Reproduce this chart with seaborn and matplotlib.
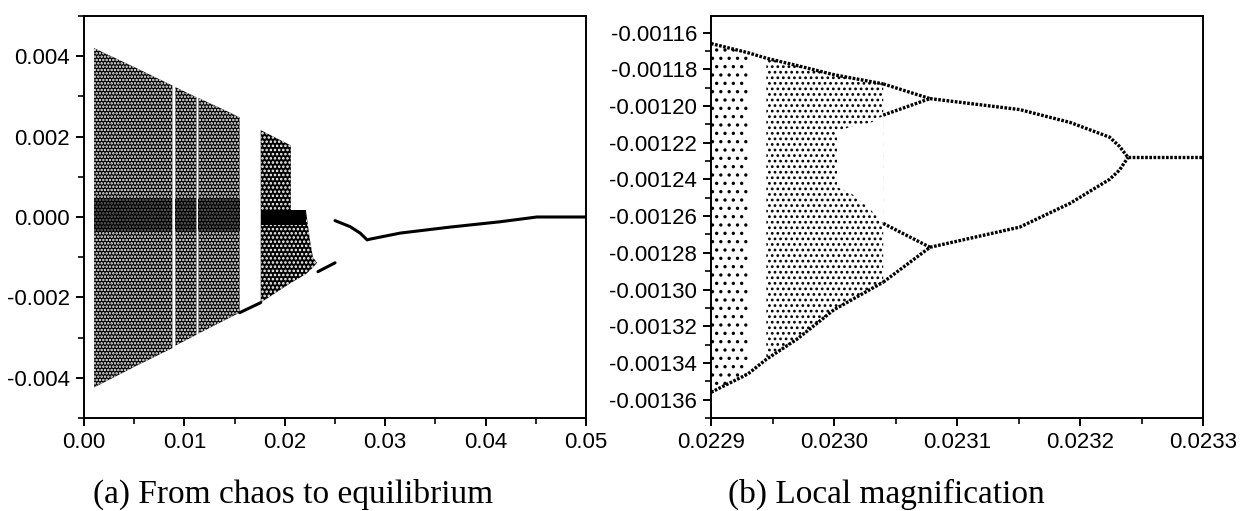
# bifurcation diagram: (a) from chaos to equilibrium, (b) local magnification

# --- imports --- #
import matplotlib
matplotlib.use("Agg")
import matplotlib.pyplot as plt
import seaborn as sns
from matplotlib.ticker import MultipleLocator, FormatStrFormatter


# --- data --- #

# (a) chaotic bands: x, upper edge, lower edge (split where white stripes are)
a_band1_x = [[0.0010, 0.0050, 0.0088], [0.0091, 0.0112], [0.0114, 0.0140, 0.0155]]
a_band1_top = [[0.00420, 0.00373, 0.00327], [0.00323, 0.00298], [0.00296, 0.00266, 0.00248]]
a_band1_bot = [[-0.00424, -0.00373, -0.00326], [-0.00320, -0.00293], [-0.00290, -0.00257, -0.00238]]
a_core1_top = 0.00045
a_core1_bot = -0.00035

a_band2_x = [0.0176, 0.0206, 0.0206, 0.0221, 0.0225, 0.0228, 0.0232]
a_band2_top = [0.00216, 0.00178, 0.00017, 0.00017, -0.00057, -0.00100, -0.00114]
a_band2_bot = [-0.00213, -0.00164, -0.00164, -0.00142, -0.00133, -0.00126, -0.00114]
a_core2_x = [0.0176, 0.0221]
a_core2_top = 0.00017
a_core2_bot = -0.00020

# (a) single curves
a_gap_x = [0.0155, 0.0176]
a_gap_y = [-0.00238, -0.00213]
a_seg_x = [0.0233, 0.0250]
a_seg_y = [-0.00136, -0.00114]
a_fix_x = [0.0250, 0.0265, 0.0275, 0.0282, 0.0285, 0.0315, 0.0365, 0.0414, 0.0451, 0.0500]
a_fix_y = [-0.00009, -0.00024, -0.00040, -0.00057, -0.00055, -0.00040, -0.00025, -0.00012, 0.0, 0.0]

# (b) chaotic blocks
b_left_x = [0.022900, 0.022930]
b_left_top = [-0.001166, -0.001171]
b_left_bot = [-0.001356, -0.001346]
b_edge_x = [0.022900, 0.022930, 0.022945, 0.022970, 0.023000, 0.023040]
b_edge_top = [-0.001166, -0.001171, -0.001174, -0.001178, -0.001183, -0.001188]
b_edge_bot = [-0.001356, -0.001346, -0.001338, -0.001327, -0.001311, -0.001296]
b_right_x = [0.022945, 0.022970, 0.023000, 0.023040]
b_right_top = [-0.001174, -0.001178, -0.001183, -0.001188]
b_right_bot = [-0.001338, -0.001327, -0.001311, -0.001296]
b_hole_x = [0.023002, 0.023013, 0.023029, 0.023040]
b_hole_top = [-0.001214, -0.001211, -0.001209, -0.001205]
b_hole_bot = [-0.001244, -0.001247, -0.001256, -0.001264]

# (b) period-4, period-2 and period-1 branches
b_p4_x = [0.023040, 0.023078]
b_p4_branches = [[-0.001188, -0.001196], [-0.001205, -0.001196],
                 [-0.001264, -0.001277], [-0.001296, -0.001277]]
b_p2_x = [0.023078, 0.023151, 0.023192, 0.023224, 0.023232, 0.023239]
b_p2_up = [-0.001196, -0.001202, -0.001209, -0.001217, -0.001222, -0.001228]
b_p2_lo = [-0.001277, -0.001266, -0.001253, -0.001240, -0.001235, -0.001228]
b_p1_x = [0.023239, 0.023300]
b_p1_y = [-0.001228, -0.001228]


# --- style --- #
sns.set_style("ticks")
plt.rcParams["font.family"] = ["Liberation Sans", "DejaVu Sans"]
plt.rcParams["hatch.linewidth"] = 1.2

fig = plt.figure(figsize=(12.45, 5.11), dpi=100)
ax_a = fig.add_axes([0.0675, 0.182, 0.4032, 0.7867])
ax_b = fig.add_axes([0.5711, 0.182, 0.3952, 0.7867])


def frame(ax):
	for s in ax.spines.values():
		s.set_linewidth(1.4)
		s.set_color("black")
	ax.tick_params(which="major", direction="out", length=6, width=1.4,
				   labelsize=16, colors="black", pad=4, top=False, right=False)
	ax.tick_params(which="minor", direction="out", length=4.5, width=1.4,
				   top=False, right=False)


# - panel (a) - #
## speckled bands: black with white speckles, denser core near zero
for xs, tops, bots in zip(a_band1_x, a_band1_top, a_band1_bot):
	ax_a.fill_between(xs, bots, tops, facecolor="black", edgecolor="white",
					  hatch=".....", linewidth=0)
	ax_a.fill_between(xs, a_core1_bot, a_core1_top, facecolor="black",
					  edgecolor="#6a6a6a", hatch=".....", linewidth=0)

ax_a.fill_between(a_band2_x, a_band2_bot, a_band2_top, facecolor="black",
				  edgecolor="white", hatch="....", linewidth=0)
ax_a.fill_between(a_core2_x, a_core2_bot, a_core2_top, color="black", linewidth=0)

## single branches
for xs, ys in [(a_gap_x, a_gap_y), (a_seg_x, a_seg_y), (a_fix_x, a_fix_y)]:
	sns.lineplot(x=xs, y=ys, ax=ax_a, color="black", linewidth=2.2, sort=False,
				 estimator=None)

ax_a.set_xlim(0.0, 0.05)
ax_a.set_ylim(-0.005, 0.005)
ax_a.xaxis.set_major_locator(MultipleLocator(0.01))
ax_a.xaxis.set_minor_locator(MultipleLocator(0.005))
ax_a.yaxis.set_major_locator(MultipleLocator(0.002))
ax_a.yaxis.set_minor_locator(MultipleLocator(0.001))
ax_a.xaxis.set_major_formatter(FormatStrFormatter("%.2f"))
ax_a.yaxis.set_major_formatter(FormatStrFormatter("%.3f"))
frame(ax_a)

# - panel (b) - #
dots = (0, (0.8, 0.45))

ax_b.fill_between(b_left_x, b_left_bot, b_left_top, facecolor="white",
				  edgecolor="black", hatch="..", linewidth=0)
ax_b.fill_between(b_right_x, b_right_bot, b_right_top, facecolor="white",
				  edgecolor="black", hatch="...", linewidth=0)
ax_b.fill_between(b_hole_x, b_hole_bot, b_hole_top, color="white", linewidth=0)
for ys in [b_edge_top, b_edge_bot]:
	ax_b.plot(b_edge_x, ys, color="black", linewidth=2.4, linestyle=dots)

for ys in b_p4_branches:
	ax_b.plot(b_p4_x, ys, color="black", linewidth=2.4, linestyle=dots)
for ys in [b_p2_up, b_p2_lo]:
	ax_b.plot(b_p2_x, ys, color="black", linewidth=2.4, linestyle=dots)
ax_b.plot(b_p1_x, b_p1_y, color="black", linewidth=2.4, linestyle=dots)

ax_b.set_xlim(0.0229, 0.0233)
ax_b.set_ylim(-0.00137, -0.001151)
ax_b.xaxis.set_major_locator(MultipleLocator(0.0001))
ax_b.xaxis.set_minor_locator(MultipleLocator(0.00005))
ax_b.yaxis.set_major_locator(MultipleLocator(0.00002))
ax_b.yaxis.set_minor_locator(MultipleLocator(0.00001))
ax_b.xaxis.set_major_formatter(FormatStrFormatter("%.4f"))
ax_b.yaxis.set_major_formatter(FormatStrFormatter("%.5f"))
frame(ax_b)

# - captions - #
fig.text(0.2357, 0.016, "(a) From chaos to equilibrium", ha="center", va="baseline",
		 fontsize=24, color="black", family=["Liberation Serif", "DejaVu Serif"])
fig.text(0.7116, 0.016, "(b) Local magnification", ha="center", va="baseline",
		 fontsize=24, color="black", family=["Liberation Serif", "DejaVu Serif"])

plt.savefig("out.png", dpi=100)
plt.close()
